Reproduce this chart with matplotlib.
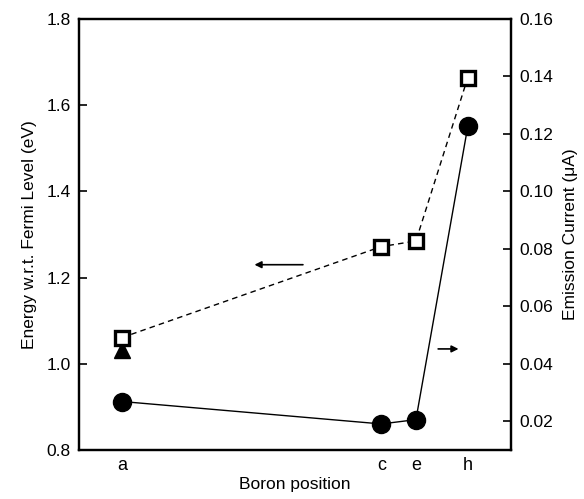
import matplotlib
matplotlib.use("Agg")
import matplotlib.pyplot as plt

plt.rcParams['font.family'] = ['Liberation Sans', 'DejaVu Sans']

# boron positions (x in arbitrary units along the axis)
posicoes = ['a', 'c', 'e', 'h']
x_pos = [1.0, 7.0, 7.8, 9.0]

# energy w.r.t. fermi level (left axis)
energia = [1.061, 1.272, 1.285, 1.664]
# extra point at position a
x_triangulo = [1.0]
energia_triangulo = [1.033]

# emission current (right axis)
corrente = [0.0269, 0.0191, 0.0206, 0.1226]

fig = plt.figure(figsize=(5.84, 4.99), dpi=100)
ax = fig.add_axes([0.135, 0.098, 0.740, 0.864])
ax2 = ax.twinx()

ax.plot(x_pos, energia, ls=(0, (4, 3)), color='black', lw=1.0,
        marker='s', ms=9.5, mfc='white', mec='black', mew=2.4, zorder=3)
ax.plot(x_triangulo, energia_triangulo, ls='none', marker='^', ms=12,
        color='black', zorder=2)
ax2.plot(x_pos, corrente, ls='-', color='black', lw=1.0,
         marker='o', ms=13, mfc='black', mec='black')

ax.set_xlim(0, 10)
ax.set_ylim(0.8, 1.8)
ax2.set_ylim(0.01, 0.16)

ax.set_xticks(x_pos)
ax.set_xticklabels(posicoes)
ax.set_yticks([0.8, 1.0, 1.2, 1.4, 1.6, 1.8])
ax.set_yticklabels(['0.8', '1.0', '1.2', '1.4', '1.6', '1.8'])
ax2.set_yticks([0.02, 0.04, 0.06, 0.08, 0.10, 0.12, 0.14, 0.16])
ax2.set_yticklabels(['0.02', '0.04', '0.06', '0.08', '0.10', '0.12', '0.14', '0.16'])

ax.tick_params(axis='x', length=0, labelsize=13, pad=5)
ax.tick_params(axis='y', direction='in', length=6, width=1.2, labelsize=12.5, pad=6)
ax2.tick_params(axis='y', direction='in', length=6, width=1.2, labelsize=12.5, pad=6)

for a in (ax, ax2):
    for s in a.spines.values():
        s.set_linewidth(1.6)

ax.set_xlabel('Boron position', fontsize=12.5, labelpad=2)
ax.set_ylabel('Energy w.r.t. Fermi Level (eV)', fontsize=12.5, labelpad=7)
ax2.set_ylabel('Emission Current (\u03bcA)', fontsize=12.5, labelpad=7)

# arrows telling which axis each curve belongs to
ax.annotate('', xy=(4.0, 1.23), xytext=(5.25, 1.23),
            arrowprops=dict(arrowstyle='-|>', color='black', lw=1.2, mutation_scale=10))
ax2.annotate('', xy=(8.85, 0.0452), xytext=(8.25, 0.0452),
             arrowprops=dict(arrowstyle='-|>', color='black', lw=1.2, mutation_scale=10))

fig.savefig('out.png', dpi=100)
